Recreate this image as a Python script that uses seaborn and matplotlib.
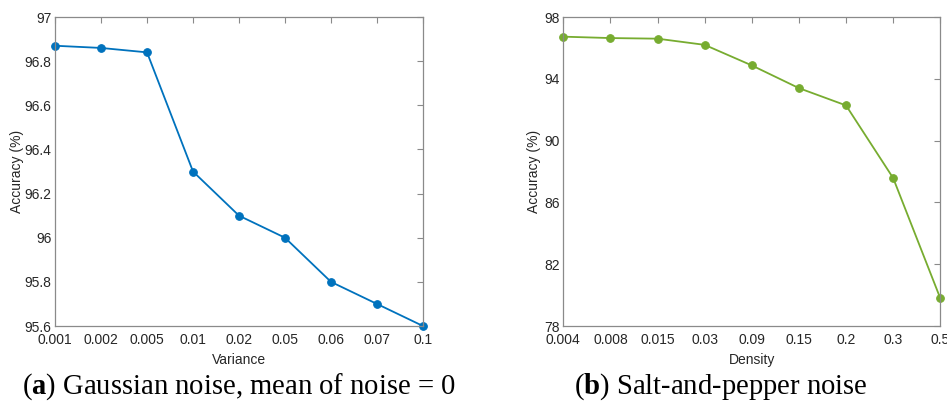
import matplotlib
matplotlib.use("Agg")
import matplotlib.pyplot as plt
import seaborn as sns
import pandas as pd

# Accuracy under Gaussian noise (mean 0) for each variance level
variance_labels = ["0.001", "0.002", "0.005", "0.01", "0.02", "0.05", "0.06", "0.07", "0.1"]
gaussian_acc = [96.87, 96.86, 96.84, 96.30, 96.10, 96.00, 95.80, 95.70, 95.60]

# Accuracy under salt-and-pepper noise for each density level
density_labels = ["0.004", "0.008", "0.015", "0.03", "0.09", "0.15", "0.2", "0.3", "0.5"]
saltpepper_acc = [96.73, 96.64, 96.60, 96.20, 94.87, 93.40, 92.28, 87.58, 79.80]

gaussian_yticks = [95.6, 95.8, 96.0, 96.2, 96.4, 96.6, 96.8, 97.0]
gaussian_yticklabels = ["95.6", "95.8", "96", "96.2", "96.4", "96.6", "96.8", "97"]
saltpepper_yticks = [78, 82, 86, 90, 94, 98]

sns.set_theme(style="white")
plt.rcParams["font.family"] = ["Liberation Sans", "DejaVu Sans"]
plt.rcParams["mathtext.fontset"] = "custom"
plt.rcParams["mathtext.rm"] = "Liberation Serif"
plt.rcParams["mathtext.bf"] = "Liberation Serif:bold"

fig = plt.figure(figsize=(9.47, 4.03), dpi=100)
ax_a = fig.add_axes([0.0581, 0.191, 0.3886, 0.7667])
ax_b = fig.add_axes([0.5948, 0.191, 0.3981, 0.7667])

text_col = "#262626"
spine_col = "#8a8a8a"


def draw_panel(ax, labels, values, color, xlabel, ylim, yticks, yticklabels, ylab_x):
    df = pd.DataFrame({"pos": range(len(labels)), "acc": values})
    sns.lineplot(data=df, x="pos", y="acc", ax=ax, color=color, marker="o",
                 markersize=5.5, markeredgecolor=color, linewidth=1.3,
                 clip_on=False)
    ax.set_xlim(0, len(labels) - 1)
    ax.set_ylim(*ylim)
    ax.set_xticks(range(len(labels)))
    ax.set_xticklabels(labels)
    ax.set_yticks(yticks)
    ax.set_yticklabels(yticklabels)
    ax.set_xlabel(xlabel, fontsize=10, color=text_col, labelpad=4.5)
    ax.set_ylabel("Accuracy (%)", fontsize=10, color=text_col)
    ax.yaxis.set_label_coords(ylab_x, 0.5)
    ax.tick_params(axis="both", which="both", direction="in", length=4,
                   width=0.8, color=spine_col, labelsize=10,
                   labelcolor=text_col, top=True, right=True, pad=2.5)
    ax.tick_params(axis="x", pad=5)
    for s in ax.spines.values():
        s.set_visible(True)
        s.set_color(spine_col)
        s.set_linewidth(0.9)
    ax.grid(False)


draw_panel(ax_a, variance_labels, gaussian_acc, "#0072BD", "Variance",
           (95.6, 97.0), gaussian_yticks, gaussian_yticklabels, -0.083)
draw_panel(ax_b, density_labels, saltpepper_acc, "#77AC30", "Density",
           (78, 98), saltpepper_yticks, [str(v) for v in saltpepper_yticks], -0.058)

cap_font = ["Liberation Serif", "DejaVu Serif"]
fig.text(0.2525, 0.040, r"($\mathbf{a}$) Gaussian noise, mean of noise = 0",
         ha="center", va="center", fontsize=20.6, family=cap_font, color="black")
fig.text(0.7615, 0.040, r"($\mathbf{b}$) Salt-and-pepper noise",
         ha="center", va="center", fontsize=20.6, family=cap_font, color="black")

fig.savefig("out.png", dpi=100)
